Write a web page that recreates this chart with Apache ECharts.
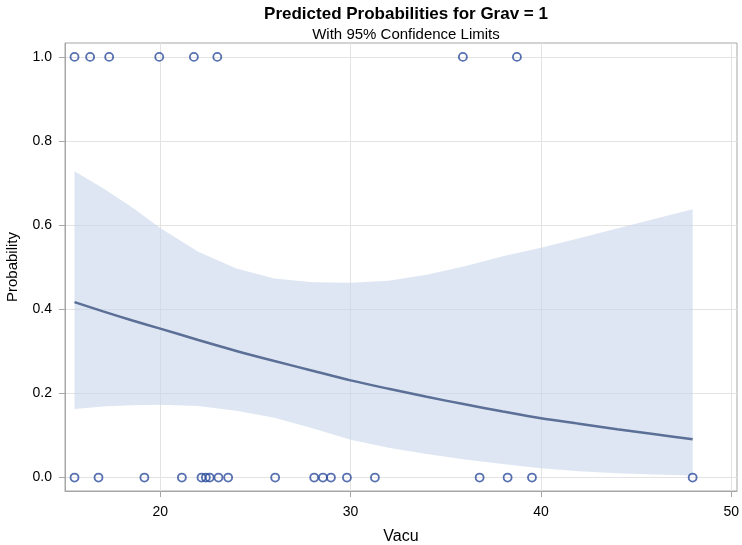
<!DOCTYPE html>
<html>
<head>
<meta charset="utf-8">
<script src="https://cdn.jsdelivr.net/npm/echarts@6/dist/echarts.min.js"></script>
<style>html,body{margin:0;padding:0;background:#fff;}#c{width:742px;height:545px;}</style>
</head>
<body>
<div id="c"></div>
<script>
// Observed outcomes
var vacuGrav1 = [15.5, 16.32, 17.32, 19.95, 21.77, 23.0, 35.9, 38.74];
var vacuGrav0 = [15.5, 16.76, 19.17, 21.14, 22.17, 22.4, 22.6, 23.06, 23.57, 26.04, 28.09, 28.55, 28.97, 29.81, 31.28, 36.78, 38.25, 39.53, 47.97];
// Predicted curve and 95% confidence limits
var vacuGrid = [15.5, 17, 18.5, 20, 22, 24, 26, 28, 30, 32, 34, 36, 38, 40, 42, 44, 46, 47.97];
var predicted = [0.417, 0.395, 0.374, 0.354, 0.327, 0.301, 0.277, 0.254, 0.231, 0.211, 0.192, 0.174, 0.157, 0.141, 0.128, 0.115, 0.103, 0.091];
var upperCL = [0.728, 0.688, 0.643, 0.593, 0.537, 0.497, 0.473, 0.464, 0.463, 0.468, 0.482, 0.502, 0.526, 0.546, 0.569, 0.592, 0.615, 0.638];
var lowerCL = [0.163, 0.169, 0.172, 0.173, 0.170, 0.159, 0.142, 0.117, 0.090, 0.071, 0.056, 0.043, 0.032, 0.022, 0.015, 0.010, 0.007, 0.005];
var xTicks = [20, 30, 40, 50];
var yTicks = [0, 0.2, 0.4, 0.6, 0.8, 1.0];

var font = '"Liberation Sans", Arial, sans-serif';
var chart = echarts.init(document.getElementById('c'), null, {renderer: 'canvas'});

var lineData = vacuGrid.map(function (x, i) { return [x, predicted[i]]; });
var bandData = vacuGrid.map(function (x, i) { return [x, lowerCL[i], upperCL[i]]; });

chart.setOption({
  animation: false,
  title: [
    {text: 'Predicted Probabilities for Grav = 1', left: 401, top: 1, textAlign: 'center',
     textStyle: {fontFamily: font, fontSize: 17, fontWeight: 'bold', color: '#000'}},
    {text: 'With 95% Confidence Limits', left: 401, top: 22, textAlign: 'center',
     textStyle: {fontFamily: font, fontSize: 15, fontWeight: 'normal', color: '#000'}}
  ],
  grid: {left: 65, right: 5, top: 43, bottom: 54, show: true, borderColor: '#a6a6a6', borderWidth: 1,
         backgroundColor: 'transparent', containLabel: false, outerBoundsMode: 'none'},
  xAxis: {
    type: 'value', min: 15, max: 50.3,
    name: 'Vacu', nameLocation: 'middle', nameGap: 38,
    nameTextStyle: {fontFamily: font, fontSize: 16, color: '#000'},
    axisLine: {show: true, onZero: false, lineStyle: {color: '#a6a6a6'}},
    axisTick: {show: true, length: 6, customValues: xTicks, lineStyle: {color: '#a6a6a6'}},
    axisLabel: {customValues: xTicks, fontFamily: font, fontSize: 14, color: '#000', margin: 14},
    splitLine: {show: true, lineStyle: {color: '#e3e3e3', width: 1}}
  },
  yAxis: {
    type: 'value', min: -0.032, max: 1.033,
    name: 'Probability', nameLocation: 'middle', nameGap: 45, nameRotate: 90,
    nameTextStyle: {fontFamily: font, fontSize: 15, color: '#000'},
    axisLine: {show: true, onZero: false, lineStyle: {color: '#a6a6a6'}},
    axisTick: {show: true, length: 6, customValues: yTicks, lineStyle: {color: '#a6a6a6'}},
    axisLabel: {customValues: yTicks, fontFamily: font, fontSize: 14, color: '#000', margin: 13,
      formatter: function (v) { return v.toFixed(1); }},
    splitLine: {show: true, lineStyle: {color: '#e3e3e3', width: 1}}
  },
  series: [
    {type: 'custom', data: [0], z: 1, silent: true,
     renderItem: function (params, api) {
       var pts = [];
       for (var i = 0; i < bandData.length; i++) pts.push(api.coord([bandData[i][0], bandData[i][2]]));
       for (var j = bandData.length - 1; j >= 0; j--) pts.push(api.coord([bandData[j][0], bandData[j][1]]));
       return {type: 'polygon', shape: {points: pts},
               style: {fill: '#c6d6ea', opacity: 0.6}};
     }},
    {type: 'line', data: lineData, symbol: 'none', smooth: 0.3,
     lineStyle: {color: '#5b6f97', width: 2.5}, z: 3},
    {type: 'scatter', data: vacuGrav1.map(function (x) { return [x, 1]; }), symbol: 'circle', symbolSize: 8,
     itemStyle: {color: 'rgba(0,0,0,0)', borderColor: '#2c4c9c', borderWidth: 1.8}, z: 4},
    {type: 'scatter', data: vacuGrav0.map(function (x) { return [x, 0]; }), symbol: 'circle', symbolSize: 8,
     itemStyle: {color: 'rgba(0,0,0,0)', borderColor: '#2c4c9c', borderWidth: 1.8}, z: 4}
  ]
});
</script>
</body>
</html>
